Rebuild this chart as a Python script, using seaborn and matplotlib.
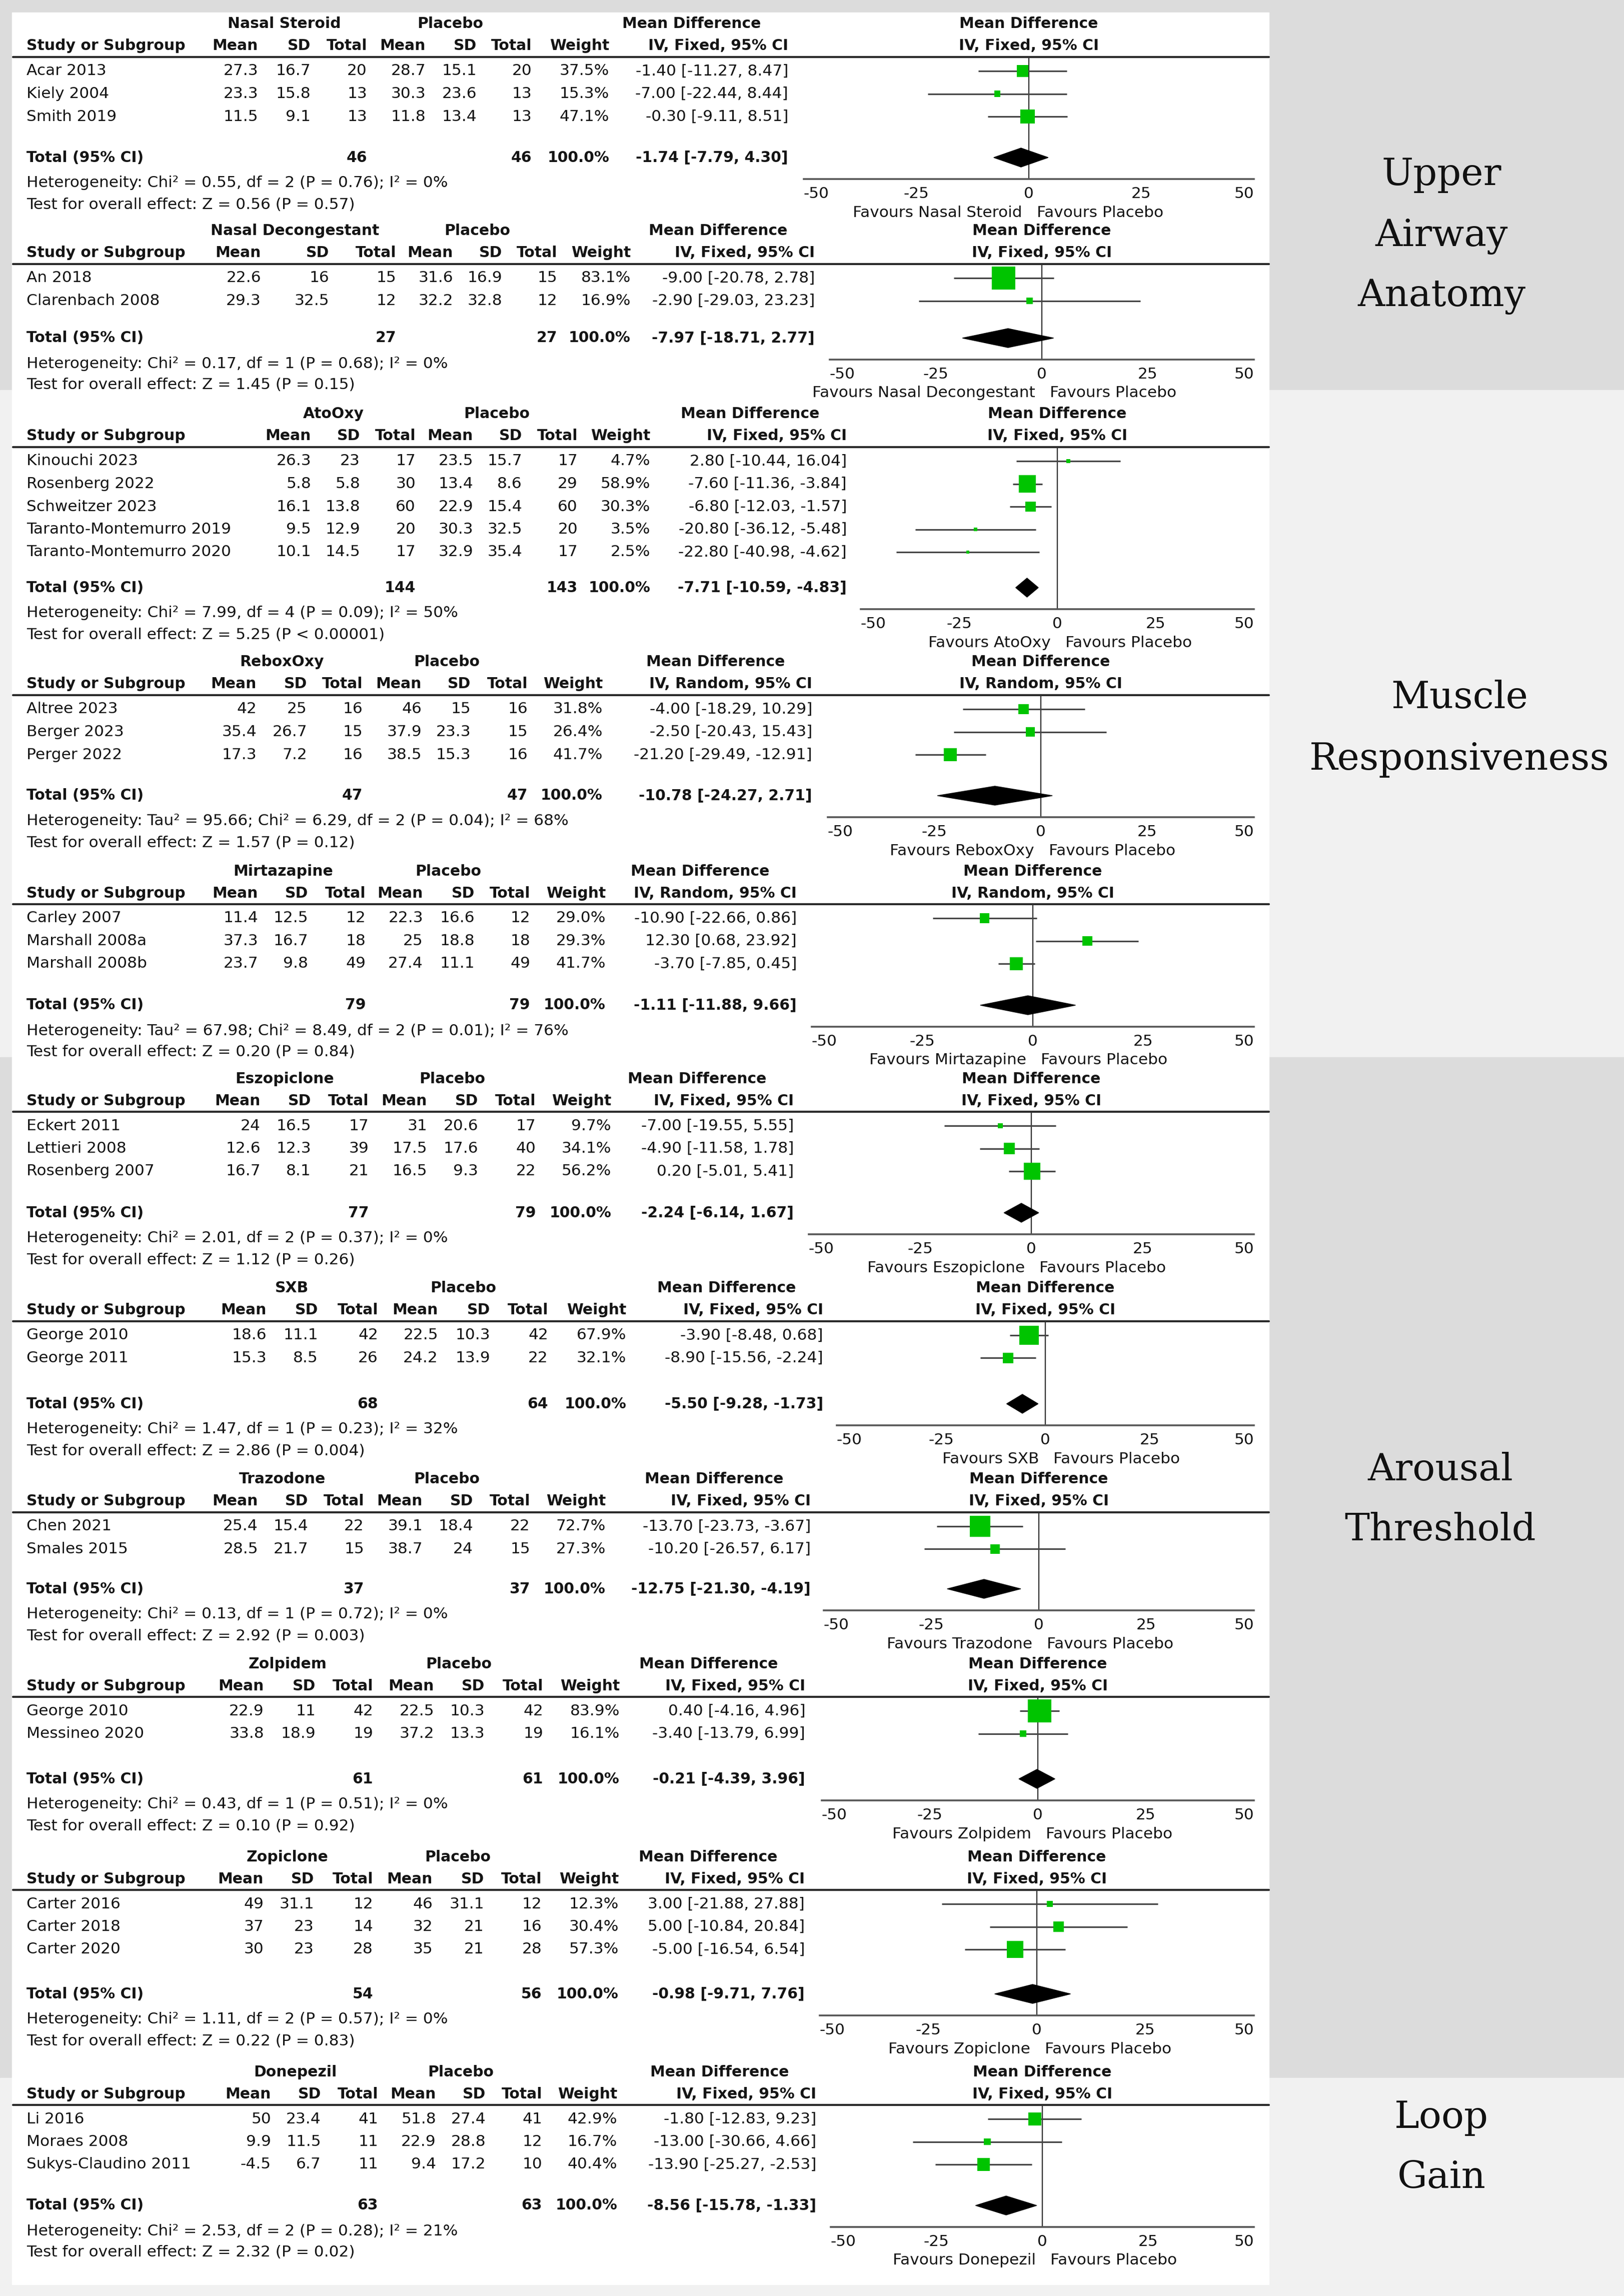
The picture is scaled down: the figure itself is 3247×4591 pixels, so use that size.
import matplotlib
matplotlib.use("Agg")
import matplotlib.pyplot as plt
import seaborn as sns
from matplotlib.patches import Rectangle
from matplotlib.lines import Line2D

# ---------------- data ----------------
groups = ['Nasal Steroid', 'Nasal Decongestant', 'AtoOxy', 'ReboxOxy', 'Mirtazapine',
          'Eszopiclone', 'SXB', 'Trazodone', 'Zolpidem', 'Zopiclone', 'Donepezil']
models = ['Fixed', 'Fixed', 'Fixed', 'Random', 'Random',
          'Fixed', 'Fixed', 'Fixed', 'Fixed', 'Fixed', 'Fixed']

studies = [
    ['Acar 2013', 'Kiely 2004', 'Smith 2019'],
    ['An 2018', 'Clarenbach 2008'],
    ['Kinouchi 2023', 'Rosenberg 2022', 'Schweitzer 2023',
     'Taranto-Montemurro 2019', 'Taranto-Montemurro 2020'],
    ['Altree 2023', 'Berger 2023', 'Perger 2022'],
    ['Carley 2007', 'Marshall 2008a', 'Marshall 2008b'],
    ['Eckert 2011', 'Lettieri 2008', 'Rosenberg 2007'],
    ['George 2010', 'George 2011'],
    ['Chen 2021', 'Smales 2015'],
    ['George 2010', 'Messineo 2020'],
    ['Carter 2016', 'Carter 2018', 'Carter 2020'],
    ['Li 2016', 'Moraes 2008', 'Sukys-Claudino 2011'],
]
mean_trt = [[27.3, 23.3, 11.5], [22.6, 29.3], [26.3, 5.8, 16.1, 9.5, 10.1],
            [42, 35.4, 17.3], [11.4, 37.3, 23.7], [24, 12.6, 16.7],
            [18.6, 15.3], [25.4, 28.5], [22.9, 33.8], [49, 37, 30], [50, 9.9, -4.5]]
sd_trt = [[16.7, 15.8, 9.1], [16, 32.5], [23, 5.8, 13.8, 12.9, 14.5],
          [25, 26.7, 7.2], [12.5, 16.7, 9.8], [16.5, 12.3, 8.1],
          [11.1, 8.5], [15.4, 21.7], [11, 18.9], [31.1, 23, 23], [23.4, 11.5, 6.7]]
n_trt = [[20, 13, 13], [15, 12], [17, 30, 60, 20, 17], [16, 15, 16], [12, 18, 49],
         [17, 39, 21], [42, 26], [22, 15], [42, 19], [12, 14, 28], [41, 11, 11]]
mean_pla = [[28.7, 30.3, 11.8], [31.6, 32.2], [23.5, 13.4, 22.9, 30.3, 32.9],
            [46, 37.9, 38.5], [22.3, 25, 27.4], [31, 17.5, 16.5],
            [22.5, 24.2], [39.1, 38.7], [22.5, 37.2], [46, 32, 35], [51.8, 22.9, 9.4]]
sd_pla = [[15.1, 23.6, 13.4], [16.9, 32.8], [15.7, 8.6, 15.4, 32.5, 35.4],
          [15, 23.3, 15.3], [16.6, 18.8, 11.1], [20.6, 17.6, 9.3],
          [10.3, 13.9], [18.4, 24], [10.3, 13.3], [31.1, 21, 21], [27.4, 28.8, 17.2]]
n_pla = [[20, 13, 13], [15, 12], [17, 29, 60, 20, 17], [16, 15, 16], [12, 18, 49],
         [17, 40, 22], [42, 22], [22, 15], [42, 19], [12, 16, 28], [41, 12, 10]]
weights = [[37.5, 15.3, 47.1], [83.1, 16.9], [4.7, 58.9, 30.3, 3.5, 2.5],
           [31.8, 26.4, 41.7], [29.0, 29.3, 41.7], [9.7, 34.1, 56.2],
           [67.9, 32.1], [72.7, 27.3], [83.9, 16.1], [12.3, 30.4, 57.3], [42.9, 16.7, 40.4]]
md = [[-1.40, -7.00, -0.30], [-9.00, -2.90], [2.80, -7.60, -6.80, -20.80, -22.80],
      [-4.00, -2.50, -21.20], [-10.90, 12.30, -3.70], [-7.00, -4.90, 0.20],
      [-3.90, -8.90], [-13.70, -10.20], [0.40, -3.40], [3.00, 5.00, -5.00],
      [-1.80, -13.00, -13.90]]
ci_low = [[-11.27, -22.44, -9.11], [-20.78, -29.03], [-10.44, -11.36, -12.03, -36.12, -40.98],
          [-18.29, -20.43, -29.49], [-22.66, 0.68, -7.85], [-19.55, -11.58, -5.01],
          [-8.48, -15.56], [-23.73, -26.57], [-4.16, -13.79], [-21.88, -10.84, -16.54],
          [-12.83, -30.66, -25.27]]
ci_high = [[8.47, 8.44, 8.51], [2.78, 23.23], [16.04, -3.84, -1.57, -5.48, -4.62],
           [10.29, 15.43, -12.91], [0.86, 23.92, 0.45], [5.55, 1.78, 5.41],
           [0.68, -2.24], [-3.67, 6.17], [4.96, 6.99], [27.88, 20.84, 6.54],
           [9.23, 4.66, -2.53]]

total_trt = [46, 27, 144, 47, 79, 77, 68, 37, 61, 54, 63]
total_pla = [46, 27, 143, 47, 79, 79, 64, 37, 61, 56, 63]
total_md = [-1.74, -7.97, -7.71, -10.78, -1.11, -2.24, -5.50, -12.75, -0.21, -0.98, -8.56]
total_low = [-7.79, -18.71, -10.59, -24.27, -11.88, -6.14, -9.28, -21.30, -4.39, -9.71, -15.78]
total_high = [4.30, 2.77, -4.83, 2.71, 9.66, 1.67, -1.73, -4.19, 3.96, 7.76, -1.33]

heterogeneity = [
    'Heterogeneity: Chi² = 0.55, df = 2 (P = 0.76); I² = 0%',
    'Heterogeneity: Chi² = 0.17, df = 1 (P = 0.68); I² = 0%',
    'Heterogeneity: Chi² = 7.99, df = 4 (P = 0.09); I² = 50%',
    'Heterogeneity: Tau² = 95.66; Chi² = 6.29, df = 2 (P = 0.04); I² = 68%',
    'Heterogeneity: Tau² = 67.98; Chi² = 8.49, df = 2 (P = 0.01); I² = 76%',
    'Heterogeneity: Chi² = 2.01, df = 2 (P = 0.37); I² = 0%',
    'Heterogeneity: Chi² = 1.47, df = 1 (P = 0.23); I² = 32%',
    'Heterogeneity: Chi² = 0.13, df = 1 (P = 0.72); I² = 0%',
    'Heterogeneity: Chi² = 0.43, df = 1 (P = 0.51); I² = 0%',
    'Heterogeneity: Chi² = 1.11, df = 2 (P = 0.57); I² = 0%',
    'Heterogeneity: Chi² = 2.53, df = 2 (P = 0.28); I² = 21%',
]
overall = ['Z = 0.56 (P = 0.57)', 'Z = 1.45 (P = 0.15)', 'Z = 5.25 (P < 0.00001)',
           'Z = 1.57 (P = 0.12)', 'Z = 0.20 (P = 0.84)', 'Z = 1.12 (P = 0.26)',
           'Z = 2.86 (P = 0.004)', 'Z = 2.92 (P = 0.003)', 'Z = 0.10 (P = 0.92)',
           'Z = 0.22 (P = 0.83)', 'Z = 2.32 (P = 0.02)']

domain_lines = [['Upper', 'Airway', 'Anatomy'], ['Muscle', 'Responsiveness'],
                ['Arousal', 'Threshold'], ['Loop', 'Gain']]
ticks = [-50, -25, 0, 25, 50]

# ---------------- layout (pixels of the 3247x4591 canvas) ----------------
W, H = 3247, 4591
block_top = [48, 462, 828, 1324, 1742, 2157, 2576, 2958, 3327, 3713, 4143]
block_total = [315, 676, 1175, 1591, 2010, 2425, 2807, 3177, 3557, 3987, 4410]
col_right = [
    [516, 621, 734, 851, 953, 1063, 1218, 1576],
    [522, 658, 792, 906, 1004, 1114, 1261, 1629],
    [622, 720, 831, 946, 1044, 1155, 1300, 1693],
    [513, 614, 725, 843, 941, 1055, 1205, 1624],
    [516, 616, 731, 846, 949, 1060, 1211, 1593],
    [521, 622, 737, 854, 956, 1071, 1222, 1587],
    [533, 636, 756, 876, 980, 1096, 1252, 1646],
    [516, 616, 728, 845, 946, 1060, 1211, 1621],
    [528, 631, 746, 868, 969, 1086, 1239, 1610],
    [527, 628, 746, 865, 968, 1083, 1237, 1609],
    [542, 642, 756, 872, 971, 1084, 1234, 1632],
]
grp_center = [568, 590, 667, 564, 566, 569, 583, 564, 575, 575, 590]
pla_center = [900, 954, 993, 893, 896, 904, 926, 893, 917, 915, 921]
zero_x = [2057, 2083, 2114, 2081, 2065, 2062, 2090, 2077, 2075, 2073, 2084]
x_right = 2507
band_edges = [0, 780, 2114, 4155, H]
band_colors = ['#dcdcdc', '#f1f1f1', '#dcdcdc', '#f1f1f1']
label_x = [2882, 2918, 2880, 2882]
label_base = [[370, 492, 612], [1416, 1539], [2960, 3080], [4255, 4375]]

GREEN = '#00c400'
TXT = '#141414'
FS = 22.5      # body text
FSB = 21.5     # bold text

sns.set_style('white')
plt.rcParams['font.family'] = ['DejaVu Sans']


def fx(x):
    return x / W


def fy(y):
    return 1 - y / H


fig = plt.figure(figsize=(W / 100, H / 100), dpi=100)


def text(x, y, s, ha='left', bold=False, size=None, **kw):
    fig.text(fx(x), fy(y), s, ha=ha, va='center', color=TXT,
             fontsize=size or (FSB if bold else FS),
             fontweight='bold' if bold else 'normal', **kw)


# background bands and white panel
for i in range(4):
    fig.add_artist(Rectangle((0, fy(band_edges[i + 1])), 1, (band_edges[i + 1] - band_edges[i]) / H,
                             transform=fig.transFigure, color=band_colors[i], zorder=0))
fig.add_artist(Rectangle((fx(24), fy(4568)), fx(2537) - fx(24), (4568 - 25) / H,
                         transform=fig.transFigure, color='white', zorder=0.5))

for b in range(len(groups)):
    y0 = block_top[b]
    yt = block_total[b]
    cr = col_right[b]
    line_y = y0 + 66
    axis_y = yt + 43
    rows = [y0 + 94 + i * 45.5 for i in range(len(studies[b]))]

    # table header
    text(grp_center[b], y0, groups[b], ha='center', bold=True)
    text(pla_center[b], y0, 'Placebo', ha='center', bold=True)
    text(cr[7] - 55, y0, 'Mean Difference', ha='right', bold=True)
    text(53, y0 + 44, 'Study or Subgroup', bold=True)
    for c, lab in enumerate(['Mean', 'SD', 'Total', 'Mean', 'SD', 'Total', 'Weight']):
        text(cr[c], y0 + 44, lab, ha='right', bold=True)
    text(cr[7], y0 + 44, f'IV, {models[b]}, 95% CI', ha='right', bold=True)
    fig.add_artist(Line2D([fx(26), fx(2537)], [fy(line_y), fy(line_y)],
                          transform=fig.transFigure, color='#2a2a2a', lw=3, zorder=1))

    # study rows
    for i, ry in enumerate(rows):
        text(53, ry, studies[b][i])
        vals = [f'{mean_trt[b][i]:g}', f'{sd_trt[b][i]:g}', f'{n_trt[b][i]}',
                f'{mean_pla[b][i]:g}', f'{sd_pla[b][i]:g}', f'{n_pla[b][i]}',
                f'{weights[b][i]:.1f}%',
                f'{md[b][i]:.2f} [{ci_low[b][i]:.2f}, {ci_high[b][i]:.2f}]']
        for c, v in enumerate(vals):
            text(cr[c], ry, v, ha='right')

    # totals and statistics
    text(53, yt, 'Total (95% CI)', bold=True)
    text(cr[2], yt, f'{total_trt[b]}', ha='right', bold=True)
    text(cr[5], yt, f'{total_pla[b]}', ha='right', bold=True)
    text(cr[6], yt, '100.0%', ha='right', bold=True)
    text(cr[7], yt, f'{total_md[b]:.2f} [{total_low[b]:.2f}, {total_high[b]:.2f}]',
         ha='right', bold=True)
    text(53, yt + 51, heterogeneity[b])
    text(53, yt + 94, 'Test for overall effect: ' + overall[b])

    # forest panel
    z = zero_x[b]
    x_left = 2 * z - x_right
    text(z, y0, 'Mean Difference', ha='center', bold=True)
    text(z, y0 + 44, f'IV, {models[b]}, 95% CI', ha='center', bold=True)
    ax = fig.add_axes([fx(x_left), fy(axis_y), fx(x_right) - fx(x_left),
                       fy(line_y) - fy(axis_y)])
    ax.set_zorder(2)
    ax.patch.set_visible(False)
    ax.set_xlim(-50, 50)
    ax.set_ylim(axis_y, line_y)
    ax.axvline(0, color='#333333', lw=1.7, zorder=1)
    ax.hlines(rows, ci_low[b], ci_high[b], color='#454545', lw=2.3, zorder=2, clip_on=False)
    sizes = {w: ((0.5 * w + 5) * 0.72) ** 2 for w in weights[b]}
    sns.scatterplot(x=md[b], y=rows, size=weights[b], sizes=sizes, marker='s',
                    color=GREEN, linewidth=0, legend=False, ax=ax, zorder=3, clip_on=False)
    ax.fill([total_low[b], total_md[b], total_high[b], total_md[b]],
            [yt, yt - 19, yt, yt + 19], color='black', zorder=4, clip_on=False)
    for side in ['top', 'left', 'right']:
        ax.spines[side].set_visible(False)
    ax.spines['bottom'].set_color('#555555')
    ax.spines['bottom'].set_linewidth(2.6)
    ax.set_yticks([])
    ax.set_xticks(ticks)
    ax.set_xticklabels([str(t) for t in ticks])
    ax.tick_params(axis='x', direction='inout', length=15, width=2.6, colors='#555555',
                   labelcolor=TXT, labelsize=FS, pad=3)
    labs = ax.get_xticklabels()
    labs[0].set_ha('left')
    labs[-1].set_ha('right')
    ax.set_xlabel('')
    ax.set_ylabel('')
    text(z - 13, yt + 110, f'Favours {groups[b]}', ha='right')
    text(z + 16, yt + 110, 'Favours Placebo', ha='left')

# domain labels on the right
for k, lines in enumerate(domain_lines):
    for s, by in zip(lines, label_base[k]):
        fig.text(fx(label_x[k]), fy(by), s, ha='center', va='baseline',
                 family='DejaVu Serif', fontsize=54, color='#111111')

fig.savefig('out.png', dpi=100, facecolor='#f1f1f1')
